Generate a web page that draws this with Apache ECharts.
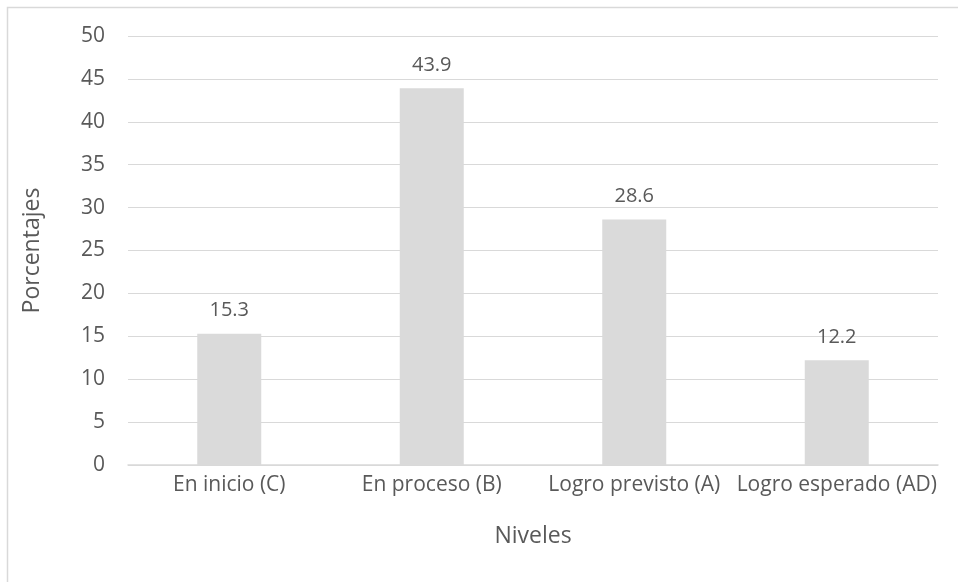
<!DOCTYPE html>
<html><head><meta charset="utf-8">
<script src="https://cdn.jsdelivr.net/npm/echarts@6/dist/echarts.min.js"></script>
<style>html,body{margin:0;padding:0;background:#fff}#c{width:958px;height:582px}</style>
</head><body><div id="c"></div>
<script>
const categories = ['En inicio (C)', 'En proceso (B)', 'Logro previsto (A)', 'Logro esperado (AD)'];
const values = [15.3, 43.9, 28.6, 12.2];
const yTicks = [0, 5, 10, 15, 20, 25, 30, 35, 40, 45, 50];

const font = '"Open Sans", "Liberation Sans", sans-serif';
const txt = '#595959';
const chart = echarts.init(document.getElementById('c'), null, {renderer: 'canvas'});
chart.setOption({
  animation: false,
  graphic: [{type: 'rect', shape: {x: 7.5, y: 7.5, width: 1000, height: 1000}, style: {fill: 'none', stroke: '#d9d9d9', lineWidth: 1.5}, silent: true}],
  grid: {left: 128, right: 20, top: 36, bottom: 117, containLabel: false},
  xAxis: {
    type: 'category', data: categories,
    axisLine: {lineStyle: {color: '#d9d9d9', width: 1.5}},
    axisTick: {show: false},
    axisLabel: {color: txt, fontFamily: font, fontSize: 21, margin: 10, interval: 0},
    name: 'Niveles', nameLocation: 'middle', nameGap: 60,
    nameTextStyle: {color: txt, fontFamily: font, fontSize: 23}
  },
  yAxis: {
    type: 'value', min: yTicks[0], max: yTicks[yTicks.length - 1], interval: 5,
    axisLine: {show: false}, axisTick: {show: false},
    splitLine: {lineStyle: {color: '#d9d9d9', width: 1.2}},
    axisLabel: {color: txt, fontFamily: font, fontSize: 21, margin: 23},
    name: 'Porcentajes', nameLocation: 'middle', nameGap: 84, nameRotate: 90,
    nameTextStyle: {color: txt, fontFamily: font, fontSize: 23}
  },
  series: [{
    type: 'bar', data: values, barWidth: '31.6%',
    itemStyle: {color: '#dadada'},
    label: {show: true, position: 'top', distance: 13, color: txt, fontFamily: font, fontSize: 20,
      formatter: p => p.value.toFixed(1)}
  }]
});
</script></body></html>
